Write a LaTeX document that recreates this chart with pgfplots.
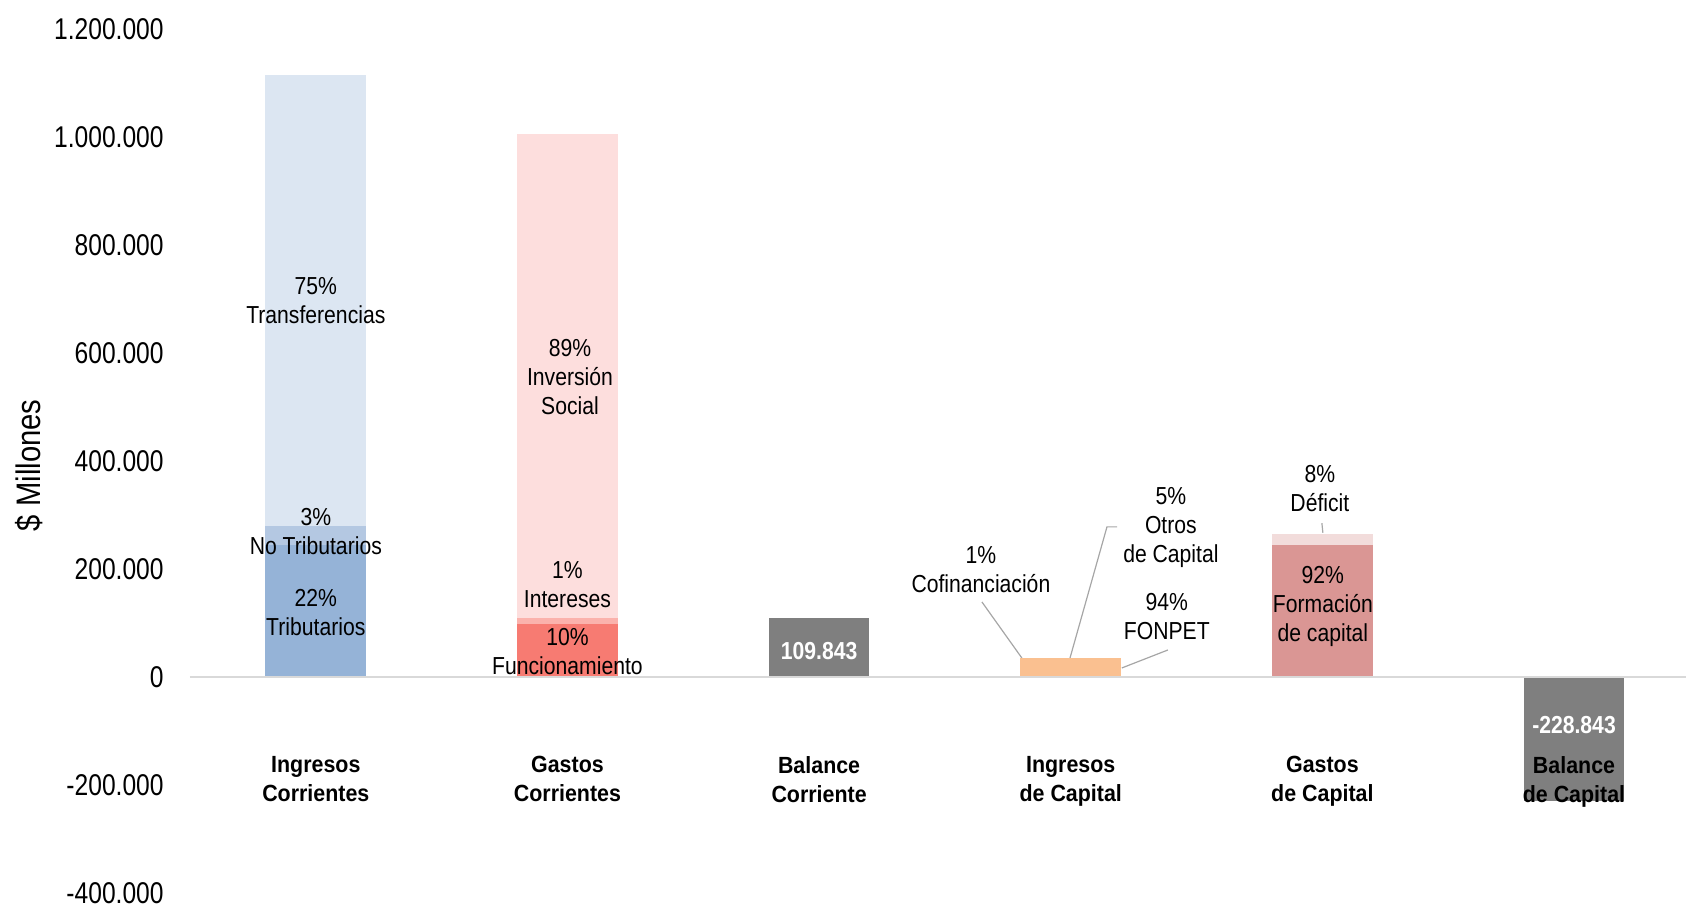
\documentclass[border=0pt]{standalone}
\usepackage{pgfplots}
\pgfplotsset{compat=1.18}
\usepackage{pgfplotstable}
\usepackage{fontspec}
\setmainfont{Liberation Sans}
\newfontfamily\nf[FakeStretch=0.86]{Liberation Sans}
\newfontfamily\nb[FakeStretch=0.915]{Liberation Sans}
\newfontfamily\nt[FakeStretch=0.82]{Liberation Sans}
\definecolor{trib}{HTML}{95B3D7}
\definecolor{notrib}{HTML}{B4C8E2}
\definecolor{transf}{HTML}{DCE6F2}
\definecolor{func}{HTML}{F77B72}
\definecolor{inter}{HTML}{FBB2AC}
\definecolor{inv}{HTML}{FDDEDD}
\definecolor{balg}{HTML}{7F7F7F}
\definecolor{orng}{HTML}{FAC090}
\definecolor{form}{HTML}{DA9694}
\definecolor{defi}{HTML}{F2DCDB}
\definecolor{lead}{HTML}{A6A6A6}
\definecolor{zline}{HTML}{D9D9D9}
\tikzset{
  lbl/.style={font=\nf\fontsize{12.3}{14.5}\selectfont, align=center, inner sep=0pt},
  wlbl/.style={font=\nf\bfseries\fontsize{12.3}{14.5}\selectfont, text=white, inner sep=0pt},
}

\pgfplotstableread{
x trib notrib transf func inter inv balc fonpet cofin otros form def balk
0 245000 34000 836000 0 0 0 0 0 0 0 0 0 0
1 0 0 0 98000 11000 896000 0 0 0 0 0 0 0
2 0 0 0 0 0 0 109843 0 0 0 0 0 0
3 0 0 0 0 0 0 0 33000 350 1800 0 0 0
4 0 0 0 0 0 0 0 0 0 0 244000 20000 0
5 0 0 0 0 0 0 0 0 0 0 0 0 -228843
}\data

\begin{document}
\begin{tikzpicture}
\begin{axis}[
  name=ax,
  axis on top,
  scale only axis,
  width=748pt, height=432pt,
  xmin=-0.5, xmax=5.445,
  ymin=-400000, ymax=1200000,
  ybar stacked,
  bar width=0.4,
  clip=false,
  axis line style={draw=none},
  tick style={draw=none},
  scaled y ticks=false,
  ytick={-400000,-200000,0,200000,400000,600000,800000,1000000,1200000},
  yticklabels={-400.000,-200.000,0,200.000,400.000,600.000,800.000,1.000.000,1.200.000},
  yticklabel style={font=\nt\fontsize{15}{18}\selectfont, inner sep=0pt, xshift=-13pt},
  xtick={0,1,2,3,4,5},
  xticklabels={{Ingresos\\Corrientes},{Gastos\\Corrientes},{Balance\\Corriente},{Ingresos\\de Capital},{Gastos\\de Capital},{Balance\\de Capital}},
  xticklabel style={font=\nb\bfseries\fontsize{11.7}{14.5}\selectfont, align=center, anchor=north, inner sep=0pt, text depth=3pt, yshift=68.5pt},
  ylabel={\$ Millones},
  ylabel style={font=\nf\fontsize{17}{20}\selectfont, at={(axis description cs:0,0.495)}, anchor=center, yshift=80.5pt},
]
\draw[zline, line width=1pt] (axis cs:-0.5,0) -- (axis cs:5.445,0);
\addplot[fill=trib, draw=none] table[x=x,y=trib]{\data};
\addplot[fill=notrib, draw=none] table[x=x,y=notrib]{\data};
\addplot[fill=transf, draw=none] table[x=x,y=transf]{\data};
\addplot[fill=func, draw=none] table[x=x,y=func]{\data};
\addplot[fill=inter, draw=none] table[x=x,y=inter]{\data};
\addplot[fill=inv, draw=none] table[x=x,y=inv]{\data};
\addplot[fill=balg, draw=none] table[x=x,y=balc]{\data};
\addplot[fill=orng, draw=none] table[x=x,y=fonpet]{\data};
\addplot[fill=orng, draw=none] table[x=x,y=cofin]{\data};
\addplot[fill=orng, draw=none] table[x=x,y=otros]{\data};
\addplot[fill=form, draw=none] table[x=x,y=form]{\data};
\addplot[fill=defi, draw=none] table[x=x,y=def]{\data};
\addplot[fill=balg, draw=none] table[x=x,y=balk]{\data};

\coordinate (l1) at (axis cs:0,697000);
\coordinate (l2) at (axis cs:0,269000);
\coordinate (l3) at (axis cs:0,120000);
\coordinate (l4) at (axis cs:1.01,555600);
\coordinate (l5) at (axis cs:1,172000);
\coordinate (l6) at (axis cs:1,47000);
\coordinate (l7) at (axis cs:2.643,199000);
\coordinate (l8) at (axis cs:3.398,277000);
\coordinate (l9) at (axis cs:3.382,112000);
\coordinate (l10) at (axis cs:3.990,349000);
\coordinate (l11) at (axis cs:4.002,131000);
\coordinate (w1) at (axis cs:2,48000);
\coordinate (w2) at (axis cs:5,-89000);
\draw[lead, line width=0.6pt] (axis cs:2.647,139000) -- (axis cs:2.806,35000);
\draw[lead, line width=0.6pt] (axis cs:3.184,278000) -- (axis cs:3.144,278000) -- (axis cs:2.997,35000);
\draw[lead, line width=0.6pt] (axis cs:3.386,50000) -- (axis cs:3.203,16700);
\draw[lead, line width=0.6pt] (axis cs:3.998,285000) -- (axis cs:4.002,267000);
\end{axis}
\node[lbl] at (l1) {75\%\\Transferencias};
\node[lbl] at (l2) {3\%\\No Tributarios};
\node[lbl] at (l3) {22\%\\Tributarios};
\node[lbl] at (l4) {89\%\\Inversión\\Social};
\node[lbl] at (l5) {1\%\\Intereses};
\node[lbl] at (l6) {10\%\\Funcionamiento};
\node[lbl] at (l7) {1\%\\Cofinanciación};
\node[lbl] at (l8) {5\%\\Otros\\de Capital};
\node[lbl] at (l9) {94\%\\FONPET};
\node[lbl] at (l10) {8\%\\Déficit};
\node[lbl] at (l11) {92\%\\Formación\\de capital};
\node[wlbl] at (w1) {109.843};
\node[wlbl] at (w2) {-228.843};
\pgfresetboundingbox
\path ([xshift=-95pt, yshift=-8pt]ax.south west) rectangle ([yshift=14.5pt]ax.north east);
\end{tikzpicture}
\end{document}
